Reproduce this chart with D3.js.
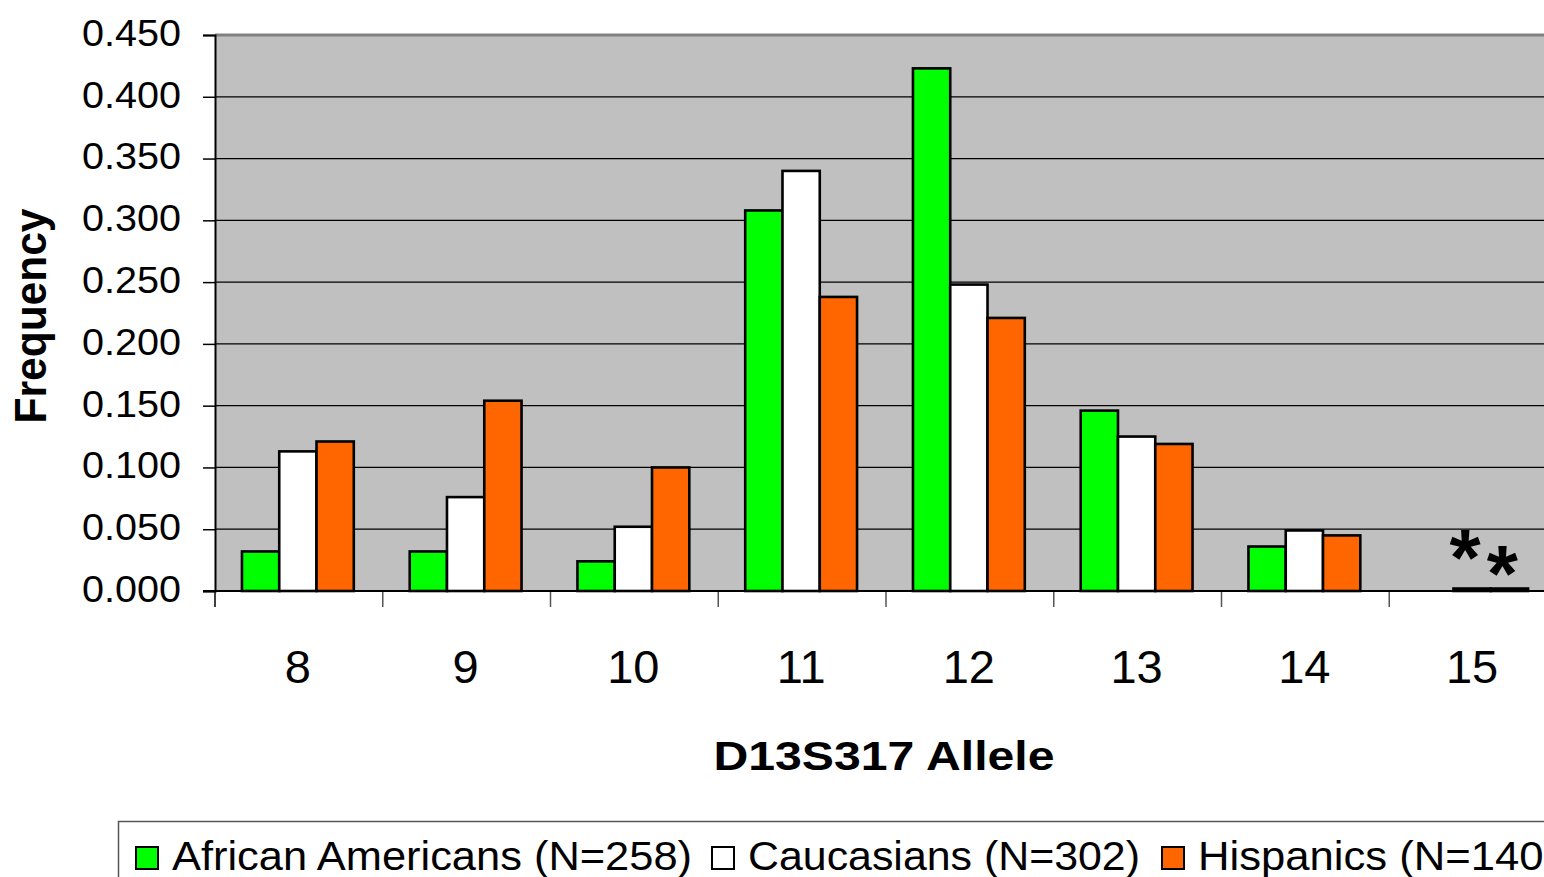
<!DOCTYPE html>
<html><head><meta charset="utf-8">
<script src="https://cdn.jsdelivr.net/npm/d3@7/dist/d3.min.js"></script>
<style>html,body{margin:0;padding:0;background:#fff;overflow:hidden}svg{display:block;font-family:"Liberation Sans",Arial,sans-serif}</style>
</head><body><svg id="c" width="1544" height="877"></svg>
<script>
const categories = ["8","9","10","11","12","13","14","15"];
const seriesNames = ["African Americans (N=258)","Caucasians (N=302)","Hispanics (N=140)"];
const seriesColors = ["#00ff00","#ffffff","#ff6600"];
const african = [0.032,0.032,0.024,0.308,0.423,0.146,0.036,0.000];
const caucasian = [0.113,0.076,0.052,0.340,0.248,0.125,0.049,0.002];
const hispanic = [0.121,0.154,0.100,0.238,0.221,0.119,0.045,0.002];
const yTicks = [0,0.05,0.1,0.15,0.2,0.25,0.3,0.35,0.4,0.45];
const annotations = [{cat:"15",series:1,text:"*"},{cat:"15",series:2,text:"*"}];
const values = [african,caucasian,hispanic];

const svg = d3.select("#c");
const L=215, R=1557, T=35, B=591;
const x = d3.scaleBand().domain(categories).range([L,R]).padding(0);
const step = x.bandwidth();
const xs = d3.scaleBand().domain(d3.range(3)).range([step/6, step*5/6]).padding(0);
const y = d3.scaleLinear().domain([0,0.45]).range([B,T]);

svg.append("rect").attr("x",L).attr("y",T).attr("width",1544-L).attr("height",B-T).attr("fill","#c0c0c0");
// gridlines
svg.append("g").selectAll("line").data(yTicks.filter(d=>d>0&&d<0.45)).join("line")
  .attr("x1",L).attr("x2",1544).attr("y1",d=>y(d)).attr("y2",d=>y(d)).attr("stroke","#000").attr("stroke-width",1.3);
svg.append("line").attr("x1",L).attr("x2",1544).attr("y1",T).attr("y2",T).attr("stroke","#808080").attr("stroke-width",3);

// bars
const bars=[];
categories.forEach((c,i)=>values.forEach((s,j)=>bars.push({c,j,v:s[i]})));
svg.append("g").selectAll("rect").data(bars.filter(b=>b.v>0)).join("rect")
  .attr("x",b=>x(b.c)+xs(b.j)-1).attr("width",xs.bandwidth())
  .attr("y",b=>y(b.v)).attr("height",b=>B-y(b.v))
  .attr("fill",b=>seriesColors[b.j]).attr("stroke","#000").attr("stroke-width",2.6);

// y axis
const yAxis = d3.axisLeft(y).tickValues(yTicks).tickFormat(d3.format(".3f")).tickSize(12).tickPadding(22);
const gy = svg.append("g").attr("transform",`translate(${L},0)`).call(yAxis);
gy.select(".domain").attr("stroke","#000").attr("stroke-width",2);
gy.selectAll(".tick line").attr("stroke","#000").attr("stroke-width",1.5);
gy.selectAll("text").attr("font-size",37).attr("fill","#000").attr("font-family","Liberation Sans, Arial").attr("dy","0.28em")
  .attr("textLength",99).attr("lengthAdjust","spacingAndGlyphs");

// x axis
const xAxis = d3.axisBottom(x).tickSize(0).tickPadding(0);
const gx = svg.append("g").attr("transform",`translate(-1,${B})`).call(xAxis);
gx.select(".domain").remove();
gx.selectAll("text").attr("font-size",47).attr("fill","#000").attr("font-family","Liberation Sans, Arial").attr("dy",0).attr("y",92);
svg.append("g").selectAll("line").data(categories).join("line")
  .attr("x1",d=>x(d)).attr("x2",d=>x(d)).attr("y1",B).attr("y2",B+16).attr("stroke",(d,i)=>i===0?"#000":"#555").attr("stroke-width",1.5);
svg.append("line").attr("x1",L-12).attr("x2",1544).attr("y1",B).attr("y2",B).attr("stroke","#000").attr("stroke-width",2);

// annotations
svg.append("g").selectAll("text").data(annotations).join("text")
  .attr("x",a=>x(a.cat)+xs(a.series)+xs.bandwidth()/2-8)
  .attr("y",a=>y(values[a.series][categories.indexOf(a.cat)]) + (a.series===1?-4:12))
  .attr("text-anchor","middle").attr("font-size",80).attr("font-weight","bold").text(a=>a.text);

// axis titles
svg.append("text").attr("transform","translate(46,316) rotate(-90)").attr("text-anchor","middle")
  .attr("font-size",44).attr("font-weight","bold").attr("textLength",215).attr("lengthAdjust","spacingAndGlyphs").text("Frequency");
svg.append("text").attr("x",884).attr("y",770).attr("text-anchor","middle")
  .attr("font-size",41).attr("font-weight","bold").attr("textLength",341).attr("lengthAdjust","spacingAndGlyphs").text("D13S317 Allele");

// legend
svg.append("rect").attr("x",118.5).attr("y",821.5).attr("width",1460).attr("height",100).attr("fill","#fff").attr("stroke","#555").attr("stroke-width",1.5);
const legX=[136,712,1162], legW=[520,392,360];
const lg = svg.append("g").selectAll("g").data(seriesNames).join("g").attr("transform",(d,i)=>`translate(${legX[i]},0)`);
lg.append("rect").attr("x",0).attr("y",847).attr("width",22).attr("height",22).attr("fill",(d,i)=>seriesColors[i]).attr("stroke","#000").attr("stroke-width",2);
lg.append("text").attr("x",36).attr("y",870).attr("font-size",40).attr("fill","#000")
  .attr("textLength",(d,i)=>legW[i]).attr("lengthAdjust","spacingAndGlyphs").text(d=>d);
</script></body></html>
